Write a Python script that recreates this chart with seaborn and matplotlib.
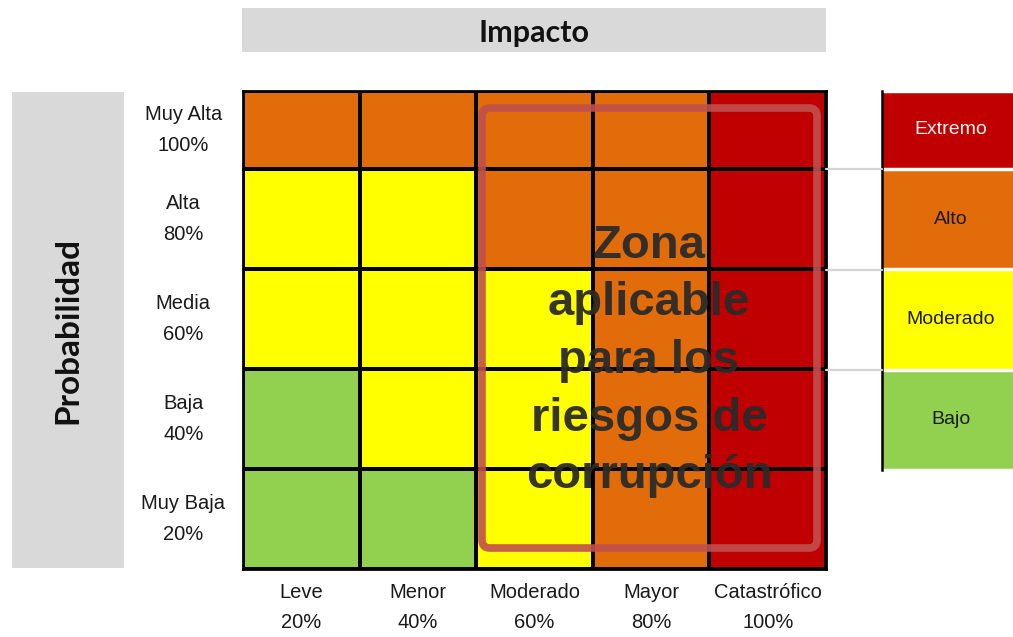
import matplotlib.pyplot as plt
from matplotlib.colors import ListedColormap
from matplotlib.lines import Line2D
from matplotlib.patches import FancyBboxPatch
import numpy as np
import pandas as pd
import seaborn as sns


sns.set_theme(style="white")
NARROW = ["Liberation Sans Narrow", "Liberation Sans", "DejaVu Sans"]
plt.rcParams["font.family"] = NARROW


IMPACTO = ["Leve", "Menor", "Moderado", "Mayor", "Catastrófico"]
IMPACTO_PCT = ["20%", "40%", "60%", "80%", "100%"]
PROBABILIDAD = ["Muy Alta", "Alta", "Media", "Baja", "Muy Baja"]
PROBABILIDAD_PCT = ["100%", "80%", "60%", "40%", "20%"]

NIVELES = ["Bajo", "Moderado", "Alto", "Extremo"]
NIVEL_COLORES = ["#92D050", "#FFFF00", "#E26B0A", "#C00000"]
NIVEL_TEXTO = ["#1a1a1a", "#1a1a1a", "#1a1a1a", "#FFF4F4"]

# nivel de riesgo por celda (0=Bajo ... 3=Extremo), filas de Muy Alta a Muy Baja
MATRIZ = [
    [2, 2, 2, 2, 3],
    [1, 1, 2, 2, 3],
    [1, 1, 1, 2, 3],
    [0, 1, 1, 2, 3],
    [0, 0, 1, 2, 3],
]
LEYENDA = [3, 2, 1, 0]

ZONA_TEXTO = "Zona\naplicable\npara los\nriesgos de\ncorrupción"


W, H = 1013, 637
fig = plt.figure(figsize=(W / 100, H / 100), dpi=100)
fig.patch.set_facecolor("white")


def px_axes(x0, y0, x1, y1):
    return fig.add_axes([x0 / W, 1 - y1 / H, (x1 - x0) / W, (y1 - y0) / H])


cmap = ListedColormap(NIVEL_COLORES)

matriz_df = pd.DataFrame(
    MATRIZ,
    index=[f"{p}\n{v}" for p, v in zip(PROBABILIDAD, PROBABILIDAD_PCT)],
    columns=[f"{i}\n{v}" for i, v in zip(IMPACTO, IMPACTO_PCT)],
)

# la primera fila es mas baja que las demas
ax_top = px_axes(243, 91, 826, 169)
ax_bot = px_axes(243, 169, 826, 569)
for ax, sub in [(ax_top, matriz_df.iloc[:1]), (ax_bot, matriz_df.iloc[1:])]:
    sns.heatmap(sub, ax=ax, cmap=cmap, vmin=-0.5, vmax=3.5, cbar=False,
                linewidths=1.5, linecolor="black")
    ax.set_xlabel("")
    ax.set_ylabel("")
    ax.tick_params(axis="y", length=0, pad=43)
    for lbl in ax.get_yticklabels():
        lbl.set_rotation(0)
        lbl.set_ha("center")
        lbl.set_fontsize(14.5)
        lbl.set_linespacing(1.75)
        lbl.set_color("#1a1a1a")
    for spine in ax.spines.values():
        spine.set_visible(True)
        spine.set_color("black")
        spine.set_linewidth(2)

ax_top.set_xticks([])
ax_bot.tick_params(axis="x", length=0, pad=10)
for lbl in ax_bot.get_xticklabels():
    lbl.set_rotation(0)
    lbl.set_fontsize(14.5)
    lbl.set_linespacing(1.75)
    lbl.set_color("#1a1a1a")

# leyenda de niveles
leyenda_df = pd.DataFrame({"nivel": LEYENDA})
etiquetas = np.array([[NIVELES[v]] for v in LEYENDA])
leg_top = px_axes(882, 91, 1020, 169)
leg_bot = px_axes(882, 169, 1020, 470)
for ax, sub, lab in [(leg_top, leyenda_df.iloc[:1], etiquetas[:1]),
                     (leg_bot, leyenda_df.iloc[1:], etiquetas[1:])]:
    sns.heatmap(sub, ax=ax, cmap=cmap, vmin=-0.5, vmax=3.5, cbar=False,
                annot=lab, fmt="", annot_kws={"fontsize": 14})
    ax.set_xticks([])
    ax.set_yticks([])
    ax.set_xlabel("")
    ax.set_ylabel("")
    for txt, v in zip(ax.texts, sub["nivel"]):
        txt.set_color(NIVEL_TEXTO[v])
    # separadores blancos entre niveles
    for y in range(len(sub) + 1):
        ax.axhline(y, color="white", lw=2.5, clip_on=True)
    ax.spines["left"].set_visible(True)
    ax.spines["left"].set_color("black")
    ax.spines["left"].set_linewidth(1.8)
    ax.spines["left"].set_zorder(5)

for y in (169, 270, 370):
    fig.add_artist(Line2D([826 / W, 882 / W], [1 - y / H, 1 - y / H],
                          transform=fig.transFigure, color="#D4D4D4", lw=1.6))

# cajas grises de titulos
ax_imp = px_axes(242, 8, 826, 52)
ax_imp.set_facecolor("#D9D9D9")
ax_imp.set_xticks([])
ax_imp.set_yticks([])
for spine in ax_imp.spines.values():
    spine.set_visible(False)
ax_imp.text(0.5, 0.44, "Impacto", ha="center", va="center", fontsize=22,
            fontweight="bold", family=["Lato", "DejaVu Sans"], color="#111111",
            transform=ax_imp.transAxes)

ax_prob = px_axes(12, 92, 124, 568)
ax_prob.set_facecolor("#D9D9D9")
ax_prob.set_xticks([])
ax_prob.set_yticks([])
for spine in ax_prob.spines.values():
    spine.set_visible(False)
ax_prob.text(0.5, 0.5, "Probabilidad", ha="center", va="center", rotation=90,
             fontsize=24, fontweight="bold", family=["Lato", "DejaVu Sans"],
             color="#111111", transform=ax_prob.transAxes)

# zona aplicable
ax_zona = px_axes(243, 91, 826, 569)
ax_zona.set_xlim(0, 583)
ax_zona.set_ylim(478, 0)
ax_zona.axis("off")
ax_zona.patch.set_alpha(0)
ax_zona.add_patch(FancyBboxPatch((239, 17), 335, 440,
                                 boxstyle="round,pad=0,rounding_size=8",
                                 fill=False, edgecolor="#C0504D", lw=5.5,
                                 alpha=0.9))
ax_zona.text(406, 270, ZONA_TEXTO, ha="center", va="center", fontsize=34,
             fontweight="bold", family=["Liberation Sans", "DejaVu Sans"],
             color="#2B2B2B", alpha=0.95, linespacing=1.4)

fig.savefig("out.png", dpi=100)
